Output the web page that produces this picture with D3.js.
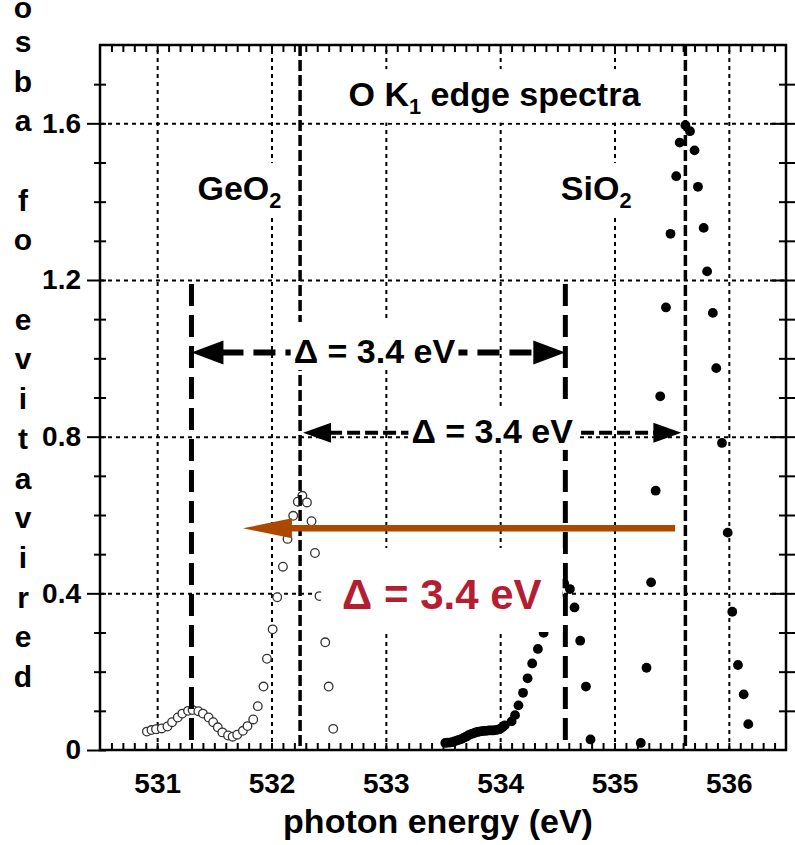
<!DOCTYPE html>
<html><head><meta charset="utf-8">
<script src="https://cdn.jsdelivr.net/npm/d3@7"></script>
<style>
html,body{margin:0;padding:0;background:#fff;}
svg{display:block;}
text{font-family:"Liberation Sans",Arial,Helvetica,sans-serif;font-weight:bold;}
</style></head><body>
<svg id="chart" width="795" height="845"></svg>
<script>
// ---- data ----
const geEnergy=[530.91,530.95,530.99,531.04,531.09,531.13,531.18,531.22,531.27,531.31,531.36,531.40,531.45,531.49,531.53,531.57,531.62,531.66,531.70,531.75,531.79,531.84,531.88,531.93,531.96,532.01,532.05,532.10,532.14,532.19,532.23,532.27,532.31,532.35,532.38,532.42,532.47,532.50,532.54];
const geSignal=[0.047,0.051,0.053,0.055,0.060,0.071,0.083,0.093,0.100,0.102,0.099,0.093,0.083,0.071,0.058,0.045,0.037,0.034,0.039,0.049,0.061,0.078,0.112,0.162,0.233,0.308,0.390,0.468,0.539,0.598,0.634,0.649,0.632,0.584,0.503,0.393,0.275,0.162,0.054];
const siEnergy=[533.52,533.54,533.56,533.58,533.60,533.62,533.64,533.66,533.68,533.70,533.72,533.74,533.76,533.78,533.80,533.82,533.84,533.86,533.88,533.90,533.92,533.94,533.96,533.98,534.00,534.02,534.04,534.10,534.13,534.16,534.20,534.24,534.28,534.33,534.38,534.42,534.47,534.51,534.56,534.61,534.65,534.70,534.75,534.79,535.23,535.28,535.32,535.36,535.40,535.45,535.49,535.54,535.57,535.62,535.66,535.70,535.73,535.78,535.81,535.86,535.89,535.94,535.99,536.03,536.08,536.13,536.17];
const siSignal=[0.018,0.019,0.019,0.020,0.022,0.024,0.026,0.028,0.031,0.034,0.037,0.040,0.042,0.044,0.046,0.047,0.048,0.049,0.049,0.050,0.050,0.050,0.051,0.052,0.054,0.058,0.063,0.073,0.089,0.114,0.146,0.183,0.221,0.258,0.299,0.335,0.370,0.398,0.425,0.411,0.364,0.279,0.162,0.027,0.018,0.210,0.428,0.662,0.903,1.130,1.318,1.465,1.551,1.595,1.580,1.531,1.438,1.333,1.222,1.116,0.975,0.784,0.555,0.353,0.217,0.142,0.066];
const xMajorTicks=[531,532,533,534,535,536];
const xTickLabels=["531","532","533","534","535","536"];
const yMajorTicks=[0,0.4,0.8,1.2,1.6];
const yTickLabels=["0","0.4","0.8","1.2","1.6"];
const thickMarkers=[531.30,534.57];
const thinMarkers=[532.25,535.62];
const yLabelText="derivative of abso";

// ---- scales ----
const x=d3.scaleLinear().domain([530.5,536.5]).range([100,786]);
const y=d3.scaleLinear().domain([0,1.8]).range([750,45]);
const svg=d3.select("#chart");
const FONT='"Liberation Sans",Arial,Helvetica,sans-serif';
const minorX=d3.range(5306,5365).map(d=>d/10).filter(d=>Math.abs(d-Math.round(d))>1e-6);
const minorY=d3.range(1,18).map(d=>d/10).filter(d=>!yMajorTicks.some(m=>Math.abs(m-d)<1e-6));

// ---- grid ----
const gx=svg.append("g").attr("transform","translate(0,750)")
  .call(d3.axisBottom(x).tickValues(xMajorTicks).tickSize(-(750-45)).tickFormat(""));
gx.select(".domain").remove();
gx.selectAll("line").attr("stroke","#000").attr("stroke-width",2).attr("stroke-dasharray","4,4");
const gy=svg.append("g").attr("transform","translate(100,0)")
  .call(d3.axisLeft(y).tickValues(yMajorTicks.filter(d=>d>0)).tickSize(-(786-100)).tickFormat(""));
gy.select(".domain").remove();
gy.selectAll("line").attr("stroke","#000").attr("stroke-width",2).attr("stroke-dasharray","4,4");

// ---- data ----
const geData=geEnergy.map((e,i)=>({e,v:geSignal[i]}));
const siData=siEnergy.map((e,i)=>({e,v:siSignal[i]}));
svg.append("g").selectAll("circle").data(geData).join("circle")
  .attr("cx",d=>x(d.e)).attr("cy",d=>y(d.v)).attr("r",4.3)
  .attr("fill","#fff").attr("stroke","#333").attr("stroke-width",1.3);
svg.append("g").selectAll("circle").data(siData).join("circle")
  .attr("cx",d=>x(d.e)).attr("cy",d=>y(d.v)).attr("r",4.9).attr("fill","#000");

// ---- marker lines ----
const ann=svg.append("g");
ann.selectAll(".thin").data(thinMarkers).join("line")
  .attr("x1",d=>x(d)).attr("x2",d=>x(d)).attr("y1",y(1.8)).attr("y2",y(0))
  .attr("stroke","#000").attr("stroke-width",3.5).attr("stroke-dasharray","11,4");
ann.selectAll(".thick").data(thickMarkers).join("line")
  .attr("x1",d=>x(d)).attr("x2",d=>x(d)).attr("y1",y(1.19)).attr("y2",y(0))
  .attr("stroke","#000").attr("stroke-width",5).attr("stroke-dasharray","22,9");

function head(g,tx,ty,dir,L,h,color){
  g.append("path").attr("d",`M${tx},${ty}L${tx-dir*L},${ty-h}L${tx-dir*L},${ty+h}Z`).attr("fill",color);
}
function dArrow(x0,x1,level,L,h,w,dash){
  const yy=y(level);
  ann.append("line").attr("x1",x0+L-2).attr("x2",x1-L+2).attr("y1",yy).attr("y2",yy)
    .attr("stroke","#000").attr("stroke-width",w).attr("stroke-dasharray",dash);
  head(ann,x0,yy,-1,L,h,"#000");
  head(ann,x1,yy,1,L,h,"#000");
}
dArrow(x(thickMarkers[0]),x(thickMarkers[1]),1.015,32,12,6,"22,10");
dArrow(x(thinMarkers[0])+3,x(thinMarkers[1])-4,0.81,28,10,4,"13,5");

// ---- labels with white boxes ----
function boxed(sel,padX,padT,padB){
  const b=sel.node().getBBox();
  const r=document.createElementNS("http://www.w3.org/2000/svg","rect");
  r.setAttribute("x",b.x-padX);r.setAttribute("y",b.y-padT);
  r.setAttribute("width",b.width+2*padX);r.setAttribute("height",b.height+padT+padB);
  r.setAttribute("fill","#fff");
  sel.node().parentNode.insertBefore(r,sel.node());
}
const lab=svg.append("g");
function label(e,v,txt,size,color){
  return lab.append("text").attr("x",x(e)).attr("y",y(v)).attr("text-anchor","middle")
    .attr("font-size",size).attr("fill",color).text(txt);
}
boxed(label(532.9,0.988,"Δ = 3.4 eV",34,"#000"),3,10,0);
boxed(label(533.93,0.784,"Δ = 3.4 eV",34,"#000"),3,6,0);
boxed(label(533.49,0.36,"Δ = 3.4 eV",42,"#b41e32"),21,23,14);

function subLabel(e,v,main,sub,rest,size){
  const t=lab.append("text").attr("x",x(e)).attr("y",y(v)).attr("text-anchor","middle").attr("font-size",size);
  t.append("tspan").text(main);
  t.append("tspan").attr("font-size",size*0.64).attr("dy",size*0.22).text(sub);
  if(rest) t.append("tspan").attr("dy",-size*0.22).text(rest);
  return t;
}
boxed(subLabel(533.95,1.644,"O K","1"," edge spectra",34),6,6,4);
boxed(subLabel(531.72,1.404,"GeO","2",null,34),6,6,4);
boxed(subLabel(534.84,1.404,"SiO","2",null,34),6,6,4);

// ---- orange arrow ----
const oy=y(0.566);
svg.append("line").attr("x1",x(535.53)).attr("x2",x(531.75)+45).attr("y1",oy).attr("y2",oy)
  .attr("stroke","#ad4800").attr("stroke-width",6.5);
head(svg,x(531.75),oy,-1,49,10,"#ad4800");

// ---- axes ticks ----
function clean(g){g.select(".domain").remove();g.selectAll("line").attr("stroke","#000").attr("stroke-width",2);}
const bt=svg.append("g").attr("transform","translate(0,750)")
  .call(d3.axisBottom(x).tickValues(minorX.concat(xMajorTicks)).tickSize(-7).tickFormat(""));clean(bt);
const tt=svg.append("g").attr("transform","translate(0,45)")
  .call(d3.axisTop(x).tickValues(minorX.concat(xMajorTicks)).tickSize(-7).tickFormat(""));clean(tt);
const lm=svg.append("g").attr("transform","translate(100,0)")
  .call(d3.axisLeft(y).tickValues(minorY).tickSize(6).tickFormat(""));clean(lm);
lm.selectAll("line").attr("x1",6);
const lM=svg.append("g").attr("transform","translate(100,0)")
  .call(d3.axisLeft(y).tickValues(yMajorTicks).tickSize(13).tickPadding(6).tickFormat((d,i)=>yTickLabels[i]));clean(lM);
lM.selectAll("line").attr("x1",6);
lM.attr("font-family",FONT).attr("font-size",28).selectAll("text").attr("font-weight","bold").attr("fill","#000");
const rm=svg.append("g").attr("transform","translate(786,0)")
  .call(d3.axisRight(y).tickValues(minorY).tickSize(9).tickFormat(""));clean(rm);
rm.selectAll("line").attr("x1",-7);
const rM=svg.append("g").attr("transform","translate(786,0)")
  .call(d3.axisRight(y).tickValues(yMajorTicks.filter(d=>d>0)).tickSize(9).tickFormat(""));clean(rM);
rM.selectAll("line").attr("x1",-16);
const bl=svg.append("g").attr("transform","translate(0,750)")
  .call(d3.axisBottom(x).tickValues(xMajorTicks).tickSize(0).tickPadding(23).tickFormat((d,i)=>xTickLabels[i]));
bl.select(".domain").remove();
bl.attr("font-family",FONT).attr("font-size",28).selectAll("text").attr("font-weight","bold").attr("fill","#000");

svg.append("rect").attr("x",100).attr("y",45).attr("width",686).attr("height",705)
  .attr("fill","none").attr("stroke","#000").attr("stroke-width",2.5);

// ---- axis titles ----
svg.append("text").attr("x",438).attr("y",833).attr("text-anchor","middle").attr("font-size",34)
  .text("photon energy (eV)");
const yl=svg.append("text").attr("font-size",30).attr("text-anchor","middle");
yLabelText.split("").forEach((c,i)=>{
  const by=687-39.7*i;
  yl.append("tspan").attr("x",23).attr("y",Math.max(by,18)).text(c===" "?"\u00a0":c);
});
</script>
</body></html>
